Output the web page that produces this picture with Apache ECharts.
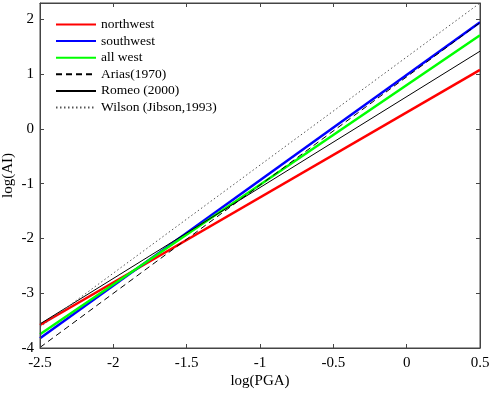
<!DOCTYPE html>
<html><head><meta charset="utf-8">
<script src="https://cdn.jsdelivr.net/npm/echarts@6/dist/echarts.min.js"></script>
<style>html,body{margin:0;padding:0;background:#fff}#c{width:491px;height:395px}</style>
</head><body><div id="c"></div>
<script>
// log(PGA) endpoints
const xVals = [-2.5, 0.5];
// log(AI) values at those endpoints
const northwest = [-3.58, 1.08];
const southwest = [-3.82, 1.95];
const allWest = [-3.75, 1.71];
const arias = [-3.99, 1.94];
const romeo = [-3.56, 1.42];
const wilson = [-3.62, 2.3];
const names = ['northwest', 'southwest', 'all west', 'Arias(1970)', 'Romeo (2000)', 'Wilson (Jibson,1993)'];
const xTicks = [-2.5, -2, -1.5, -1, -0.5, 0, 0.5];
const yTicks = [-4, -3, -2, -1, 0, 1, 2];

const font = 'Liberation Serif, Times New Roman, serif';
function pts(v) { return xVals.map((x, i) => [x, v[i]]); }
function mk(name, v, color, width, type) {
  return { name, type: 'line', data: pts(v), symbol: 'none', showSymbol: false,
    lineStyle: { color, width, type }, itemStyle: { color }, animation: false, z: 3 };
}
const axisCol = '#444';
const tick = { show: true, inside: true, length: 4, lineStyle: { color: axisCol, width: 1 } };
const chart = echarts.init(document.getElementById('c'));
chart.setOption({
  animation: false,
  grid: { left: 40, right: 11, top: 3, bottom: 47, containLabel: false, outerBoundsMode: 'none',
    show: true, borderColor: axisCol, borderWidth: 1, backgroundColor: 'transparent' },
  legend: {
    left: 50, top: 11.5, orient: 'vertical', itemWidth: 40, itemHeight: 10, itemGap: 0.6,
    itemStyle: { opacity: 0 },
    textStyle: { fontFamily: font, fontSize: 13.5, color: '#000', lineHeight: 16 },
    data: names.map(n => ({ name: n }))
  },
  xAxis: [{
    type: 'value', min: -2.5, max: 0.5, interval: 0.5, z: 5,
    name: 'log(PGA)', nameLocation: 'middle', nameGap: 26, nameMoveOverlap: false,
    nameTextStyle: { fontFamily: font, fontSize: 15, color: '#000' },
    axisLine: { show: true, onZero: false, lineStyle: { color: axisCol } },
    axisTick: tick,
    axisLabel: { fontFamily: font, fontSize: 15, color: '#000', margin: 8 },
    splitLine: { show: false }
  }, {
    type: 'value', position: 'top', min: -2.5, max: 0.5, interval: 0.5, z: 5,
    axisLine: { show: true, onZero: false, lineStyle: { color: axisCol } },
    axisTick: tick,
    axisLabel: { show: false }, splitLine: { show: false }
  }],
  yAxis: [{
    type: 'value', min: -4, max: 2.3, z: 5,
    name: 'log(AI)', nameLocation: 'middle', nameGap: 24, nameRotate: 90, nameMoveOverlap: false,
    nameTextStyle: { fontFamily: font, fontSize: 15, color: '#000' },
    axisLine: { show: true, onZero: false, lineStyle: { color: axisCol } },
    axisTick: Object.assign({ customValues: yTicks }, tick),
    axisLabel: { fontFamily: font, fontSize: 15, color: '#000', margin: 6, customValues: yTicks },
    splitLine: { show: false }
  }, {
    type: 'value', position: 'right', min: -4, max: 2.3, z: 5,
    axisLine: { show: true, onZero: false, lineStyle: { color: axisCol } },
    axisTick: Object.assign({ customValues: yTicks }, tick),
    axisLabel: { show: false }, splitLine: { show: false }
  }],
  series: [
    mk(names[0], northwest, '#ff0000', 2.5, 'solid'),
    mk(names[1], southwest, '#0000ff', 2.5, 'solid'),
    mk(names[2], allWest, '#00ff00', 2.5, 'solid'),
    mk(names[3], arias, '#000000', 1, [6, 4]),
    mk(names[4], romeo, '#000000', 1, 'solid'),
    mk(names[5], wilson, '#555555', 1, [1.5, 2.5])
  ]
});
</script></body></html>
